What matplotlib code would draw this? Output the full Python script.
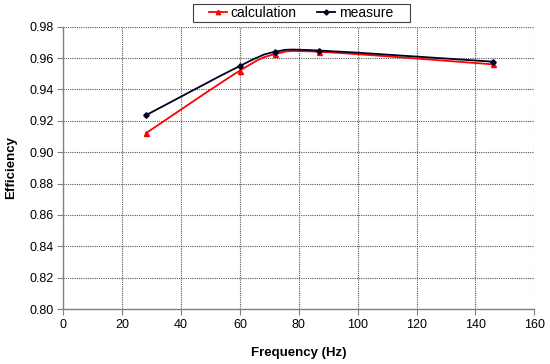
import matplotlib
matplotlib.use("Agg")
import matplotlib.pyplot as plt
from matplotlib.path import Path
from matplotlib.patches import PathPatch, Rectangle
from matplotlib.lines import Line2D

freq_calc = [28, 60, 72, 87, 146]
eff_calc = [0.912, 0.952, 0.9625, 0.964, 0.956]
freq_meas = [28, 60, 72, 87, 146]
eff_meas = [0.9235, 0.955, 0.964, 0.9648, 0.9577]

x_ticks = [0, 20, 40, 60, 80, 100, 120, 140, 160]
y_ticks = [0.80, 0.82, 0.84, 0.86, 0.88, 0.90, 0.92, 0.94, 0.96, 0.98]

plt.rcParams['font.family'] = ['Liberation Sans', 'DejaVu Sans']

W, H = 550, 364
fig = plt.figure(figsize=(W / 100, H / 100), dpi=100)
ax = fig.add_axes([0.1151, 0.151, 0.8564, 0.7756])


def smooth_path(xs, ys):
    n = len(xs)
    verts = [(xs[0], ys[0])]
    codes = [Path.MOVETO]
    for i in range(n - 1):
        x0, y0 = xs[max(i - 1, 0)], ys[max(i - 1, 0)]
        x1, y1 = xs[i], ys[i]
        x2, y2 = xs[i + 1], ys[i + 1]
        x3, y3 = xs[min(i + 2, n - 1)], ys[min(i + 2, n - 1)]
        c1 = (x1 + (x2 - x0) / 6, y1 + (y2 - y0) / 6)
        c2 = (x2 - (x3 - x1) / 6, y2 - (y3 - y1) / 6)
        verts += [c1, c2, (x2, y2)]
        codes += [Path.CURVE4] * 3
    return Path(verts, codes)


for xs, ys, col, mk, ms in [(freq_calc, eff_calc, '#ff0000', '^', 3.6),
                            (freq_meas, eff_meas, '#000020', 'D', 2.8)]:
    ax.add_patch(PathPatch(smooth_path(xs, ys), facecolor='none',
                           edgecolor=col, lw=1.3, zorder=3))
    ax.plot(xs, ys, linestyle='none', marker=mk, color=col, ms=ms, zorder=4)

ax.set_xlim(0, 160)
ax.set_ylim(0.80, 0.98)
ax.set_xticks(x_ticks)
ax.set_xticklabels([str(v) for v in x_ticks])
ax.set_yticks(y_ticks)
ax.set_yticklabels([f"{v:.2f}" for v in y_ticks])
ax.grid(True, color='#555555', linestyle=(0, (1, 1)), linewidth=0.8)
ax.set_axisbelow(True)
for s in ['top', 'right']:
    ax.spines[s].set_visible(False)
for s in ['left', 'bottom']:
    ax.spines[s].set_color('#808080')
    ax.spines[s].set_linewidth(1.0)
ax.tick_params(direction='out', length=4, color='#808080', labelsize=9,
               labelcolor='#000000', pad=3)
ax.set_xlabel('Frequency (Hz)', fontsize=9.5, fontweight='bold', labelpad=12)
ax.set_ylabel('Efficiency', fontsize=9.5, fontweight='bold', labelpad=9)

# legend frame
fig.patches.append(Rectangle((193 / W, 1 - 22 / H), (410 - 193) / W, 18 / H,
                             transform=fig.transFigure, facecolor='white',
                             edgecolor='#404040', linewidth=0.8))
handles = [Line2D([], [], color='#ff0000', marker='^', ms=3.2, lw=1.3),
           Line2D([], [], color='#000020', marker='D', ms=2.6, lw=1.3)]
leg = fig.legend(handles, ['calculation', 'measure'], loc='center',
                 bbox_to_anchor=(301 / W, 1 - 13 / H), ncol=2, fontsize=10,
                 frameon=False, handlelength=1.3, borderpad=0.0,
                 columnspacing=1.5, handletextpad=0.25)

fig.savefig('out.png', dpi=100)
